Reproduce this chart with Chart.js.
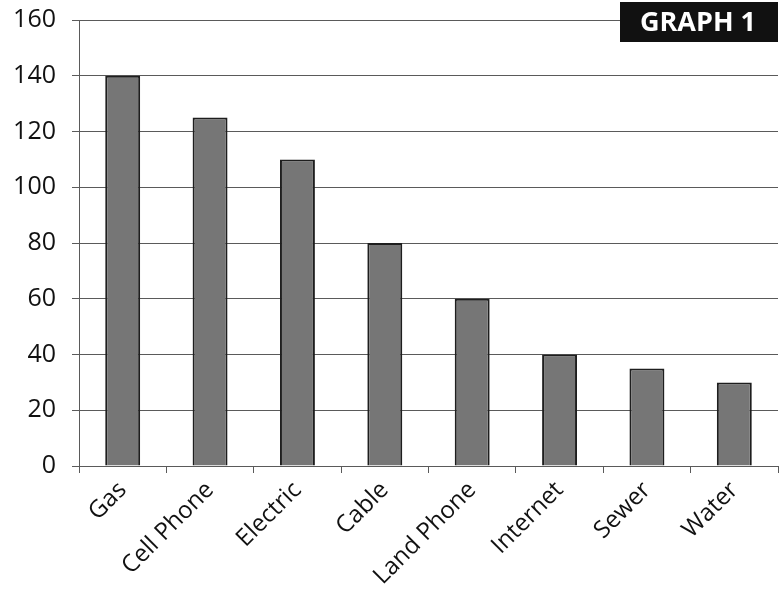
<!DOCTYPE html>
<html>
<head>
<meta charset="utf-8">
<style>
  html, body { margin: 0; padding: 0; background: #ffffff; }
  #wrap { width: 781px; height: 597px; position: relative; }
</style>
<script src="https://cdn.jsdelivr.net/npm/chart.js@4/dist/chart.umd.min.js"></script>
</head>
<body>
<div id="wrap"><canvas id="c" width="781" height="597"></canvas></div>
<script>
// Monthly utility costs by category
const categories = ["Gas", "Cell Phone", "Electric", "Cable", "Land Phone", "Internet", "Sewer", "Water"];
const costs = [140, 125, 110, 80, 60, 40, 35, 30];
const yTicks = [0, 20, 40, 60, 80, 100, 120, 140, 160];
const badgeText = "GRAPH 1";

const ink = "#1e1e1e";
const gridInk = "#5a5a5a";

// Black badge with white bold caption in the top-right corner
const badgePlugin = {
  id: "badge",
  afterDraw(chart) {
    const ctx = chart.ctx;
    const right = chart.chartArea.right;
    ctx.save();
    ctx.fillStyle = "#111111";
    ctx.fillRect(right - 158, 2, 158, 40);
    ctx.fillStyle = "#ffffff";
    ctx.font = "bold 27px 'Open Sans', sans-serif";
    ctx.textAlign = "center";
    ctx.textBaseline = "middle";
    ctx.fillText(badgeText, right - 80, 23);
    ctx.restore();
  }
};

new Chart(document.getElementById("c"), {
  type: "bar",
  data: {
    labels: categories,
    datasets: [{
      data: costs,
      backgroundColor: "#767676",
      borderColor: ink,
      borderWidth: 2,
      borderSkipped: "bottom",
      barPercentage: 0.4,
      categoryPercentage: 1.0
    }]
  },
  options: {
    responsive: false,
    animation: false,
    devicePixelRatio: 1,
    layout: { padding: { top: 20, right: 3, left: 0, bottom: 0 } },
    plugins: {
      legend: { display: false },
      tooltip: { enabled: false }
    },
    scales: {
      x: {
        offset: true,
        grid: {
          offset: true,
          drawOnChartArea: false,
          drawTicks: true,
          tickLength: 7,
          color: gridInk,
          lineWidth: 1
        },
        border: { display: true, color: gridInk, width: 1 },
        ticks: {
          minRotation: 45,
          maxRotation: 45,
          padding: 3,
          color: "#111111",
          font: { family: "'Open Sans', sans-serif", size: 24 }
        },
        afterFit(scale) {
          scale.height = 131;
          scale.paddingLeft = 0;
          scale.paddingRight = 0;
        }
      },
      y: {
        min: 0,
        max: 160,
        afterBuildTicks(scale) { scale.ticks = yTicks.map(v => ({ value: v })); },
        grid: {
          drawTicks: true,
          tickLength: 7,
          color: gridInk,
          lineWidth: 1
        },
        border: { display: true, color: gridInk, width: 1 },
        ticks: {
          padding: 16,
          color: "#111111",
          font: { family: "'Open Sans', sans-serif", size: 25 }
        },
        afterFit(scale) {
          scale.width = 79;
          scale.paddingTop = 0;
          scale.paddingBottom = 0;
        }
      }
    }
  },
  plugins: [badgePlugin]
});
</script>
</body>
</html>
